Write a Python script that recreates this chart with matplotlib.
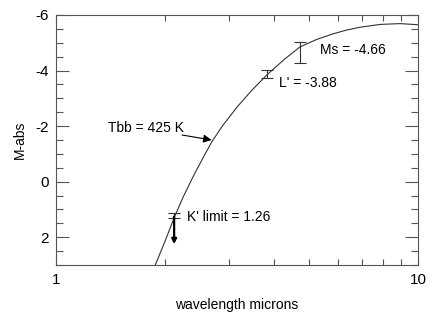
import matplotlib
matplotlib.use('Agg')
import matplotlib.pyplot as plt
from matplotlib.ticker import FixedLocator, MultipleLocator, NullFormatter

plt.rcParams['font.family'] = ['Liberation Sans', 'DejaVu Sans']
plt.rcParams['axes.unicode_minus'] = False

# blackbody curve (wavelength in microns, absolute mag)
bb_wave = [1.88, 2.0, 2.12, 2.24, 2.40, 2.57, 2.69, 2.88, 3.16, 3.47, 3.83,
           4.27, 4.72, 5.25, 5.82, 6.31, 6.92, 7.85, 8.91, 10.0]
bb_mag = [3.0, 2.15, 1.30, 0.58, -0.22, -0.95, -1.42, -2.0, -2.68, -3.28, -3.85,
          -4.40, -4.85, -5.12, -5.32, -5.45, -5.56, -5.66, -5.69, -5.65]

# photometry
band_names = ["K' limit", "L'", "Ms"]
band_wave = [2.12, 3.83, 4.72]
band_mag = [1.26, -3.88, -4.66]
err_lo = [0.14, 0.14, 0.38]
err_hi = [0.04, 0.14, 0.38]
limit_to = 2.25

fig = plt.figure(figsize=(4.36, 3.12), dpi=100)
ax = fig.add_axes([56/436, 1-265/312, 362/436, 250/312])

ink = '#333333'
ax.plot(bb_wave, bb_mag, color=ink, lw=0.8)
ax.errorbar(band_wave, band_mag, yerr=[err_lo, err_hi], fmt='none',
            ecolor=ink, elinewidth=0.8, capsize=4, capthick=0.8)

# upper limit arrow on K'
ax.annotate('', xy=(band_wave[0], limit_to), xytext=(band_wave[0], band_mag[0]),
            arrowprops=dict(arrowstyle='-|>', color='black', lw=1.6,
                            mutation_scale=7, shrinkA=0, shrinkB=0))

fs = 10
ax.text(2.30, 1.26, "%s = %.2f" % (band_names[0], band_mag[0]), fontsize=fs, va='center', ha='left')
ax.text(4.13, -3.54, "%s = %.2f" % (band_names[1], band_mag[1]), fontsize=fs, va='center', ha='left')
ax.text(5.36, -4.75, "%s = %.2f" % (band_names[2], band_mag[2]), fontsize=fs, va='center', ha='left')
ax.text(1.392, -1.93, "Tbb = 425 K", fontsize=fs, va='center', ha='left')
ax.annotate('', xy=(2.69, -1.5), xytext=(2.23, -1.68),
            arrowprops=dict(arrowstyle='-|>', color='black', lw=0.8,
                            mutation_scale=12, shrinkA=0, shrinkB=0))

ax.set_xscale('log')
ax.set_xlim(1, 10)
ax.set_ylim(3, -6)

ax.xaxis.set_major_locator(FixedLocator([1, 10]))
ax.xaxis.set_minor_locator(FixedLocator([2, 3, 4, 5, 6, 7, 8, 9]))
ax.xaxis.set_major_formatter(plt.FixedFormatter(['1', '10']))
ax.xaxis.set_minor_formatter(NullFormatter())
ax.yaxis.set_major_locator(FixedLocator([-6, -4, -2, 0, 2]))
ax.yaxis.set_minor_locator(MultipleLocator(0.5))

ax.tick_params(axis='both', which='both', direction='in', color='#555555',
               width=0.8, top=True, right=True, labelsize=11, labelcolor='black')
ax.tick_params(axis='y', which='major', length=9.5, pad=5)
ax.tick_params(axis='y', which='minor', length=5)
ax.tick_params(axis='x', which='both', length=4, pad=6)

for s in ax.spines.values():
    s.set_color('#555555')
    s.set_linewidth(0.8)

ax.set_xlabel('wavelength microns', fontsize=fs, labelpad=8)
ax.set_ylabel('M-abs', fontsize=fs, labelpad=6)

fig.savefig('out.png', dpi=100)
